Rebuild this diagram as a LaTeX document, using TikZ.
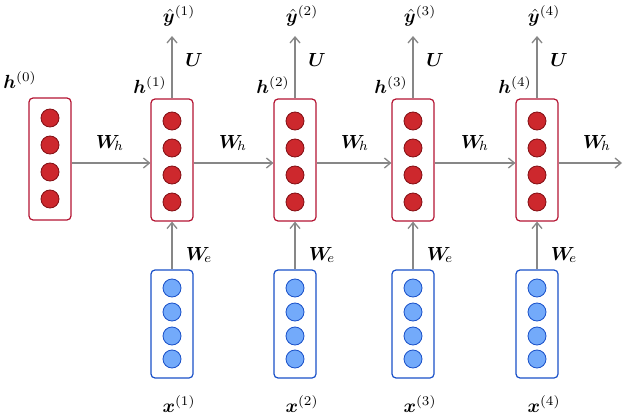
\documentclass[tikz,border=0pt]{standalone}
\usepackage{amsmath,bm}
\usetikzlibrary{arrows.meta}
\definecolor{hred}{RGB}{205,40,45}
\definecolor{hredd}{RGB}{130,15,20}
\definecolor{boxred}{RGB}{180,20,50}
\definecolor{xblue}{RGB}{115,170,250}
\definecolor{xblued}{RGB}{25,80,200}
\definecolor{arr}{RGB}{135,135,135}
\begin{document}
\begin{tikzpicture}[x=1pt,y=-1pt,
  hbox/.style={draw=boxred,line width=1.2pt,rounded corners=4pt,minimum width=42pt,minimum height=122pt,inner sep=0pt},
  xbox/.style={draw=xblued,line width=1.2pt,rounded corners=4pt,minimum width=42pt,minimum height=108pt,inner sep=0pt},
  hc/.style={circle,fill=hred,draw=hredd,line width=0.8pt,minimum size=18pt,inner sep=0pt},
  xc/.style={circle,fill=xblue,draw=xblued,line width=0.8pt,minimum size=18pt,inner sep=0pt},
  ar/.style={draw=arr,line width=1.3pt,-{Straight Barb[length=6pt,width=10pt]}},
  lab/.style={scale=1.9,inner sep=0.5pt}]
\useasboundingbox (0,0) rectangle (640,420);
% h0
\node[hbox] (h0) at (50,159) {};
\foreach \k/\yy in {1/118,2/145,3/172,4/199}{\node[hc] (h0c\k) at (50,\yy) {};}
\node[lab] (lh0) at (20,80) {$\bm{h}^{(0)}$};
\foreach \i/\cx in {1/172,2/295,3/413,4/537}{
  \node[hbox] (h\i) at (\cx,160) {};
  \foreach \k/\yy in {1/121,2/148,3/175,4/202}{\node[hc] (h\i c\k) at (\cx,\yy) {};}
  \node[xbox] (x\i) at (\cx,324) {};
  \foreach \k/\yy in {1/288,2/312,3/336,4/359}{\node[xc] (x\i c\k) at (\cx,\yy) {};}
  \node[lab] (lx\i) at (\cx+7,404) {$\bm{x}^{(\i)}$};
  \node[lab] (ly\i) at (\cx+7,16) {$\hat{\bm{y}}^{(\i)}$};
  \node[lab] (lh\i) at (\cx-22,85) {$\bm{h}^{(\i)}$};
  \coordinate (t\i) at (\cx,36);
  \draw[ar] (h\i.north) -- (t\i);
  \node[lab] (lu\i) at (\cx+22,60) {$\bm{U}$};
  \draw[ar] (x\i.north) -- (h\i.south);
  \node[lab] (lw\i) at (\cx+27,255) {$\bm{W}_{\!e}$};
}
\draw[ar] (h0.east|-0,163) -- (h1.west|-0,163);
\draw[ar] (h1.east|-0,163) -- (h2.west|-0,163);
\draw[ar] (h2.east|-0,163) -- (h3.west|-0,163);
\draw[ar] (h3.east|-0,163) -- (h4.west|-0,163);
\coordinate (end) at (622,163);
\draw[ar] (h4.east|-0,163) -- (end);
\foreach \xx in {110,233,355,475,597}{\node[lab] at (\xx,143) {$\bm{W}_{\!h}$};}
\end{tikzpicture}
\end{document}
